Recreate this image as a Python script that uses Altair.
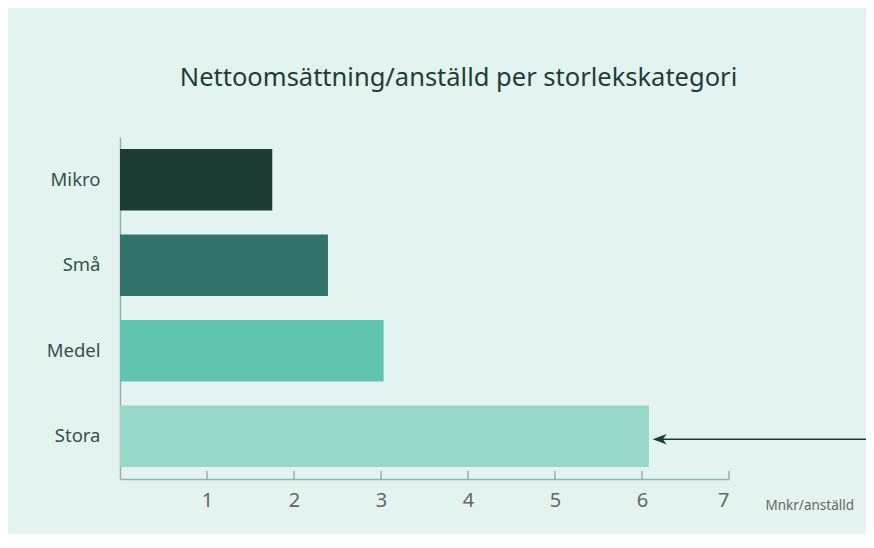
import altair as alt
import pandas as pd

categories = ["Mikro", "Små", "Medel", "Stora"]
values = [1.75, 2.39, 3.03, 6.08]
colors = ["#1d3c36", "#34736b", "#61c4ae", "#98d8cb"]
tick_values = [1, 2, 3, 4, 5, 6, 7]
arrow_target = ["Stora"]
arrow_start = [6.18]

df = pd.DataFrame({"kategori": categories, "varde": values})
ticks_df = pd.DataFrame({"t": tick_values})
arrow_df = pd.DataFrame({"kategori": arrow_target, "x": arrow_start})

FONT = "Noto Sans"
W, H = 609, 342
PAD_R = 137

xscale = alt.Scale(domain=[0, 7], nice=False, zero=True)
yscale = alt.Scale(domain=categories, paddingInner=0.28, paddingOuter=0.14)

bars = alt.Chart(df).mark_bar().encode(
    y=alt.Y("kategori:N", scale=yscale, sort=categories,
            axis=alt.Axis(title=None, ticks=False, labelFontSize=18.5, labelColor="#34524c",
                          labelFont=FONT, labelPadding=20, domainColor="#8db5ad",
                          domainWidth=1.5, labelFontWeight="normal")),
    x=alt.X("varde:Q", scale=xscale,
            axis=alt.Axis(values=tick_values, format="d", ticks=False, labelFontSize=20,
                          labelColor="#666666", labelFont=FONT, labelPadding=11,
                          labelFontWeight="normal",
                          domainColor="#8db5ad", domainWidth=1.5, grid=False,
                          title="Mnkr/anställd", titleFont=FONT, titleFontSize=13.5,
                          titleFontWeight="normal", titleColor="#666666",
                          titleX=645, titleY=26, titleAlign="left",
                          titleBaseline="middle", titleAnchor="start")),
    color=alt.Color("kategori:N", scale=alt.Scale(domain=categories, range=colors), legend=None),
)

tick_marks = alt.Chart(ticks_df).mark_tick(color="#8db5ad", thickness=1.5, size=8, opacity=1).encode(
    x=alt.X("t:Q", scale=xscale),
    y=alt.value(H - 4),
)

arrow_line = alt.Chart(arrow_df).mark_rule(color="#1e3d38", strokeWidth=1.5, yOffset=3).encode(
    x=alt.X("x:Q", scale=xscale),
    x2=alt.value(W + PAD_R),
    y=alt.Y("kategori:N", scale=yscale, sort=categories, bandPosition=0.5),
)

arrow_head = alt.Chart(arrow_df).mark_point(
    shape="M-1,0L1,-0.75L0.45,0L1,0.75Z", filled=True, opacity=1,
    color="#1e3d38", size=200, yOffset=3, xOffset=2,
).encode(
    x=alt.X("x:Q", scale=xscale),
    y=alt.Y("kategori:N", scale=yscale, sort=categories, bandPosition=0.5),
)

chart = alt.layer(bars, tick_marks, arrow_line, arrow_head).properties(
    width=W, height=H,
    title=alt.TitleParams("Nettoomsättning/anställd per storlekskategori", font=FONT,
                          fontSize=25.5, fontWeight="normal", color="#1e3d38",
                          anchor="middle", dx=34, offset=46),
    autosize=alt.AutoSizeParams(type="none"),
    padding={"left": 112, "top": 129, "right": PAD_R, "bottom": 55},
    background="#e3f3ef",
).configure_view(stroke=None)

chart.save("out.html", embed_options={"renderer": "svg", "actions": False})
